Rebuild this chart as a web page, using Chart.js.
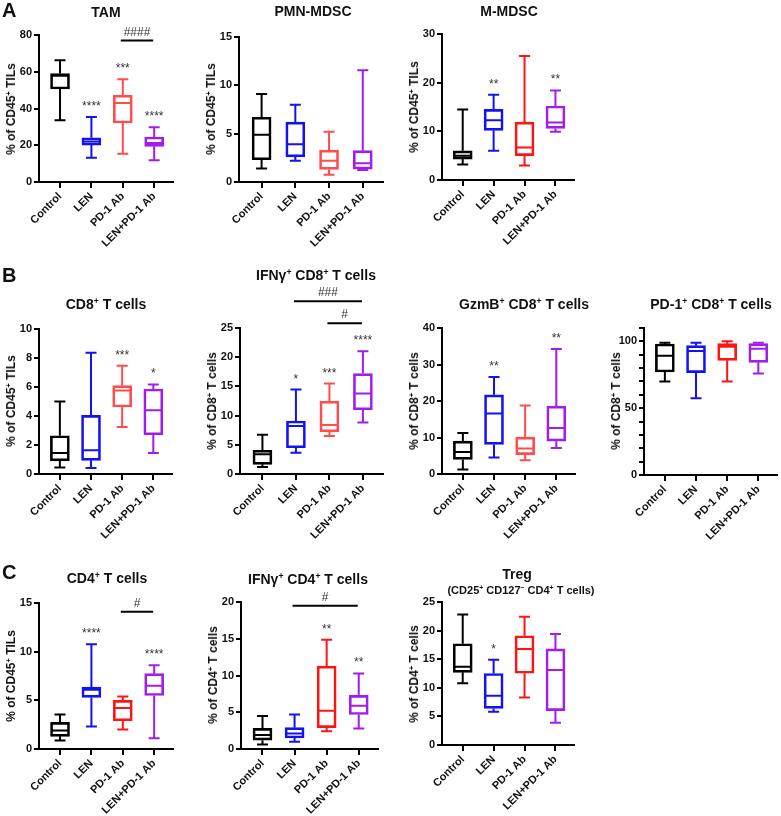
<!DOCTYPE html>
<html>
<head>
<meta charset="utf-8">
<script src="https://cdn.jsdelivr.net/npm/chart.js@4.4.0/dist/chart.umd.min.js"></script>
<style>
  body { margin: 0; background: #fff; width: 781px; height: 816px; position: relative; overflow: hidden;
         font-family: "Liberation Sans", Arial, sans-serif; color: #111; }
  canvas { position: absolute; }
  .t  { position: absolute; transform: translate(-50%, -50%); font-weight: bold; font-size: 14px; white-space: nowrap; }
  .st { position: absolute; transform: translate(-50%, -50%); font-weight: bold; font-size: 11px; white-space: nowrap; }
  .yt { position: absolute; transform: translate(-50%, -50%) rotate(-90deg); font-weight: bold; font-size: 12px; white-space: nowrap; }
  .lt { position: absolute; transform: translateY(-50%); font-weight: bold; font-size: 20px; line-height: 20px; }
  sup { font-size: 0.62em; vertical-align: 0.6em; line-height: 0; }
</style>
</head>
<body>
<script>
/* ---------- Data ---------- */
const categories = ['Control', 'LEN', 'PD-1 Ab', 'LEN+PD-1 Ab'];

// A: TAM
const tamMin = [33.6, 13.2, 15.4, 11.8];
const tamQ1  = [50.6, 20.1, 32.1, 19.4];
const tamMed = [57.8, 22.0, 43.0, 21.2];
const tamQ3  = [59.0, 24.1, 47.2, 24.5];
const tamMax = [66.2, 35.4, 55.9, 29.8];
const tamStars = ['', '****', '***', '****'];
const tamComps = [{ a: 3, b: 4, text: '####', y: 77 }];

// A: PMN-MDSC
const pmnMin = [1.4, 2.2, 0.76, 1.24];
const pmnQ1  = [2.3, 2.6, 1.3, 1.34];
const pmnMed = [4.9, 3.9, 2.2, 1.93];
const pmnQ3  = [6.7, 6.2, 3.3, 3.24];
const pmnMax = [9.1, 8.0, 5.2, 11.55];

// A: M-MDSC
const mMin = [3.2, 6.0, 3.0, 9.9];
const mQ1  = [4.3, 10.2, 5.0, 10.6];
const mMed = [5.0, 12.3, 6.7, 11.8];
const mQ3  = [6.0, 14.5, 11.9, 15.2];
const mMax = [14.5, 17.5, 25.5, 18.4];
const mStars = ['', '**', '', '**'];

// B: CD8+ T cells
const cd8Min = [0.44, 0.41, 3.24, 1.45];
const cd8Q1  = [0.9, 0.94, 4.62, 2.71];
const cd8Med = [1.45, 1.63, 5.76, 4.39];
const cd8Q3  = [2.64, 4.04, 6.09, 5.86];
const cd8Max = [5.0, 8.36, 7.46, 6.18];
const cd8Stars = ['', '', '***', '*'];

// B: IFNg+ CD8+ T cells
const ifn8Min = [1.2, 3.66, 6.5, 8.8];
const ifn8Q1  = [1.66, 4.5, 7.2, 11.0];
const ifn8Med = [3.4, 8.22, 8.4, 13.77];
const ifn8Q3  = [4.06, 9.08, 12.45, 17.2];
const ifn8Max = [6.74, 14.45, 15.48, 21.0];
const ifn8Stars = ['', '*', '***', '****'];
const ifn8Comps = [{ a: 2, b: 4, text: '###', y: 29.6 }, { a: 3, b: 4, text: '#', y: 25.8 }];

// B: GzmB+ CD8+ T cells
const gzmMin = [1.2, 4.5, 3.8, 7.1];
const gzmQ1  = [4.0, 8.1, 5.3, 9.0];
const gzmMed = [6.0, 16.6, 7.0, 12.6];
const gzmQ3  = [9.0, 21.7, 10.1, 18.6];
const gzmMax = [11.2, 26.6, 18.8, 34.25];
const gzmStars = ['', '**', '', '**'];

// B: PD-1+ CD8+ T cells
const pd1Min = [69.9, 57.5, 69.9, 75.9];
const pd1Q1  = [77.1, 76.6, 85.8, 84.3];
const pd1Med = [89.3, 92.8, 96.0, 94.5];
const pd1Q3  = [98.0, 96.8, 98.3, 98.3];
const pd1Max = [99.0, 99.0, 100.0, 99.0];

// C: CD4+ T cells
const cd4Min = [0.88, 2.3, 2.0, 1.1];
const cd4Q1  = [1.3, 5.3, 2.9, 5.5];
const cd4Med = [1.9, 6.1, 4.2, 6.5];
const cd4Q3  = [2.73, 6.36, 5.0, 7.74];
const cd4Max = [3.55, 10.75, 5.4, 8.6];
const cd4Stars = ['', '****', '', '****'];
const cd4Comps = [{ a: 3, b: 4, text: '#', y: 14.1 }];

// C: IFNg+ CD4+ T cells
const ifn4Min = [0.6, 1.0, 2.4, 2.8];
const ifn4Q1  = [1.2, 1.5, 2.9, 4.7];
const ifn4Med = [1.9, 2.1, 5.2, 5.9];
const ifn4Q3  = [2.8, 2.9, 11.28, 7.3];
const ifn4Max = [4.5, 4.7, 14.87, 10.28];
const ifn4Stars = ['', '', '**', '**'];
const ifn4Comps = [{ a: 2, b: 4, text: '#', y: 19.5 }];

// C: Treg
const tregMin = [10.8, 5.8, 8.3, 3.9];
const tregQ1  = [12.7, 6.4, 12.55, 6.0];
const tregMed = [13.7, 8.6, 16.8, 13.1];
const tregQ3  = [17.7, 12.5, 19.1, 16.8];
const tregMax = [22.8, 14.9, 22.4, 19.4];
const tregStars = ['', '*', '', ''];

/* ---------- Styling ---------- */
const FONT = '"Liberation Sans", Arial, sans-serif';
const lightRed = '#ff4d4d';
const pureRed = '#ff1414';
const colorsFor = red => ['#000000', '#1212f2', red, '#a21cf0'];
const X_MIN = 0.33, X_MAX = 4.6;
const PAD_TOP = 50, X_AXIS_H = 75, Y_AXIS_W = 30;
const pct45 = '% of CD45<sup>+</sup> TILs';
const pct8 = '% of CD8<sup>+</sup> T cells';
const pct4 = '% of CD4<sup>+</sup> T cells';

const panels = [
  { axisX: 39,  top: 35,    bottom: 182,   spacing: 31.3, yMax: 80,  step: 20, red: lightRed,
    title: 'TAM', tx: 106, ty: 12, ytitle: pct45,
    box: [tamMin, tamQ1, tamMed, tamQ3, tamMax], stars: tamStars, comps: tamComps },
  { axisX: 239, top: 36.7,  bottom: 181.7, spacing: 33.7, yMax: 15,  step: 5,  red: lightRed,
    title: 'PMN-MDSC', tx: 313, ty: 11, ytitle: pct45,
    box: [pmnMin, pmnQ1, pmnMed, pmnQ3, pmnMax] },
  { axisX: 442, top: 34,    bottom: 180,   spacing: 31,   yMax: 30,  step: 10, red: pureRed,
    title: 'M-MDSC', tx: 509, ty: 11, ytitle: pct45,
    box: [mMin, mQ1, mMed, mQ3, mMax], stars: mStars },
  { axisX: 39,  top: 328.5, bottom: 473.7, spacing: 31.2, yMax: 10,  step: 2,  red: lightRed,
    title: 'CD8<sup>+</sup> T cells', tx: 106, ty: 304, ytitle: pct45,
    box: [cd8Min, cd8Q1, cd8Med, cd8Q3, cd8Max], stars: cd8Stars },
  { axisX: 240, top: 327.7, bottom: 473.7, spacing: 33.5, yMax: 25,  step: 5,  red: lightRed,
    title: 'IFNγ<sup>+</sup> CD8<sup>+</sup> T cells', tx: 316, ty: 275, ytitle: pct8,
    box: [ifn8Min, ifn8Q1, ifn8Med, ifn8Q3, ifn8Max], stars: ifn8Stars, comps: ifn8Comps },
  { axisX: 442.3, top: 327.7, bottom: 473.7, spacing: 31.1, yMax: 40, step: 10, red: lightRed,
    title: 'GzmB<sup>+</sup> CD8<sup>+</sup> T cells', tx: 524, ty: 304, ytitle: pct8,
    box: [gzmMin, gzmQ1, gzmMed, gzmQ3, gzmMax], stars: gzmStars },
  { axisX: 643.7, top: 327.7, bottom: 474.7, spacing: 31.1, yMax: 110, step: 10, labelEvery: 50, red: pureRed,
    title: 'PD-1<sup>+</sup> CD8<sup>+</sup> T cells', tx: 711, ty: 304, ytitle: pct8,
    box: [pd1Min, pd1Q1, pd1Med, pd1Q3, pd1Max] },
  { axisX: 39,  top: 602.7, bottom: 748.6, spacing: 31.3, yMax: 15,  step: 5,  red: pureRed,
    title: 'CD4<sup>+</sup> T cells', tx: 107, ty: 578, ytitle: pct45,
    box: [cd4Min, cd4Q1, cd4Med, cd4Q3, cd4Max], stars: cd4Stars, comps: cd4Comps },
  { axisX: 240.7, top: 602, bottom: 748.7, spacing: 32, yMax: 20, step: 5, red: pureRed,
    title: 'IFNγ<sup>+</sup> CD4<sup>+</sup> T cells', tx: 308, ty: 579, ytitle: pct4,
    box: [ifn4Min, ifn4Q1, ifn4Med, ifn4Q3, ifn4Max], stars: ifn4Stars, comps: ifn4Comps },
  { axisX: 442.3, top: 602.3, bottom: 745, spacing: 31, yMax: 25, step: 5, red: pureRed,
    title: 'Treg', tx: 517, ty: 574, ytitle: pct4,
    subtitle: '(CD25<sup>+</sup> CD127<sup>−</sup> CD4<sup>+</sup> T cells)', sx: 521, sy: 590,
    box: [tregMin, tregQ1, tregMed, tregQ3, tregMax], stars: tregStars }
];

/* ---------- Whiskers, medians, stars, comparison bars ---------- */
const boxExtras = {
  id: 'boxExtras',
  afterDatasetsDraw(chart, args, o) {
    const { ctx, scales: { x, y } } = chart;
    const [lo, q1, med, q3, hi] = o.box;
    const cap = 5.5, half = 8.5;
    ctx.save();
    ctx.lineWidth = 2;
    med.forEach((m, i) => {
      const cx = x.getPixelForValue(i + 1);
      const yLo = y.getPixelForValue(lo[i]), yQ1 = y.getPixelForValue(q1[i]);
      const yQ3 = y.getPixelForValue(q3[i]), yHi = y.getPixelForValue(hi[i]);
      const yMed = y.getPixelForValue(m);
      ctx.strokeStyle = o.colors[i];
      ctx.beginPath();
      ctx.moveTo(cx, yLo); ctx.lineTo(cx, yQ1);
      ctx.moveTo(cx, yQ3); ctx.lineTo(cx, yHi);
      ctx.moveTo(cx - cap, yLo); ctx.lineTo(cx + cap, yLo);
      ctx.moveTo(cx - cap, yHi); ctx.lineTo(cx + cap, yHi);
      ctx.moveTo(cx - half, yMed); ctx.lineTo(cx + half, yMed);
      ctx.stroke();
      if (o.stars && o.stars[i]) {
        ctx.fillStyle = '#333';
        ctx.font = '12px ' + FONT;
        ctx.textAlign = 'center';
        ctx.textBaseline = 'alphabetic';
        ctx.fillText(o.stars[i], cx, yHi - 7);
      }
    });
    (o.comps || []).forEach(c => {
      const x1 = x.getPixelForValue(c.a) - 2, x2 = x.getPixelForValue(c.b) - 1;
      const yy = y.getPixelForValue(c.y);
      ctx.strokeStyle = '#000';
      ctx.beginPath(); ctx.moveTo(x1, yy); ctx.lineTo(x2, yy); ctx.stroke();
      ctx.fillStyle = '#333';
      ctx.font = '12px ' + FONT;
      ctx.textAlign = 'center';
      ctx.textBaseline = 'alphabetic';
      ctx.fillText(c.text, (x1 + x2) / 2, yy - 5);
    });
    ctx.restore();
  }
};

function addHtml(cls, html, left, top) {
  const d = document.createElement('div');
  d.className = cls;
  d.innerHTML = html;
  d.style.left = left + 'px';
  d.style.top = top + 'px';
  document.body.appendChild(d);
}

function renderPanel(p) {
  const plotW = (X_MAX - X_MIN) * p.spacing;
  const plotH = p.bottom - p.top;
  const cv = document.createElement('canvas');
  cv.width = Math.round(Y_AXIS_W + plotW + 8);
  cv.height = Math.round(PAD_TOP + plotH + X_AXIS_H);
  cv.style.left = (p.axisX - Y_AXIS_W) + 'px';
  cv.style.top = (p.top - PAD_TOP) + 'px';
  document.body.appendChild(cv);

  const colors = colorsFor(p.red);
  const [lo, q1, med, q3, hi] = p.box;
  const tickFont = { family: FONT, size: 11, weight: 'bold' };

  new Chart(cv, {
    type: 'bar',
    data: {
      datasets: [{
        data: categories.map((c, i) => ({ x: i + 1, y: [q1[i], q3[i]] })),
        backgroundColor: 'rgba(0,0,0,0)',
        borderColor: colors,
        borderWidth: 2,
        borderSkipped: false,
        barThickness: 19
      }]
    },
    options: {
      responsive: false,
      animation: false,
      events: [],
      layout: { padding: { top: PAD_TOP, right: 8, left: 0, bottom: 0 } },
      plugins: {
        legend: { display: false },
        tooltip: { enabled: false },
        boxExtras: { box: p.box, colors: colors, stars: p.stars, comps: p.comps }
      },
      scales: {
        x: {
          type: 'linear', min: X_MIN, max: X_MAX, offset: false,
          afterBuildTicks: s => { s.ticks = categories.map((c, i) => ({ value: i + 1 })); },
          afterFit: s => { s.height = X_AXIS_H; },
          grid: { offset: false, drawOnChartArea: false, tickLength: 6, lineWidth: 2, color: '#000' },
          border: { color: '#000', width: 2 },
          ticks: {
            autoSkip: false, minRotation: 45, maxRotation: 45, padding: 2,
            color: '#111', font: tickFont,
            callback: v => categories[v - 1]
          }
        },
        y: {
          min: 0, max: p.yMax,
          afterFit: s => { s.width = Y_AXIS_W; },
          grid: { drawOnChartArea: false, tickLength: 5, lineWidth: 2, color: '#000' },
          border: { color: '#000', width: 2 },
          ticks: {
            stepSize: p.step, autoSkip: false, padding: 2, color: '#111', font: tickFont,
            callback: v => (p.labelEvery && v % p.labelEvery !== 0) ? '' : v
          }
        }
      }
    },
    plugins: [boxExtras]
  });

  addHtml('t', p.title, p.tx, p.ty);
  if (p.subtitle) addHtml('st', p.subtitle, p.sx, p.sy);
  addHtml('yt', p.ytitle, p.axisX - 28, (p.top + p.bottom) / 2);
}

panels.forEach(renderPanel);
addHtml('lt', 'A', 2, 10);
addHtml('lt', 'B', 2, 275);
addHtml('lt', 'C', 2, 572);
</script>
</body>
</html>
